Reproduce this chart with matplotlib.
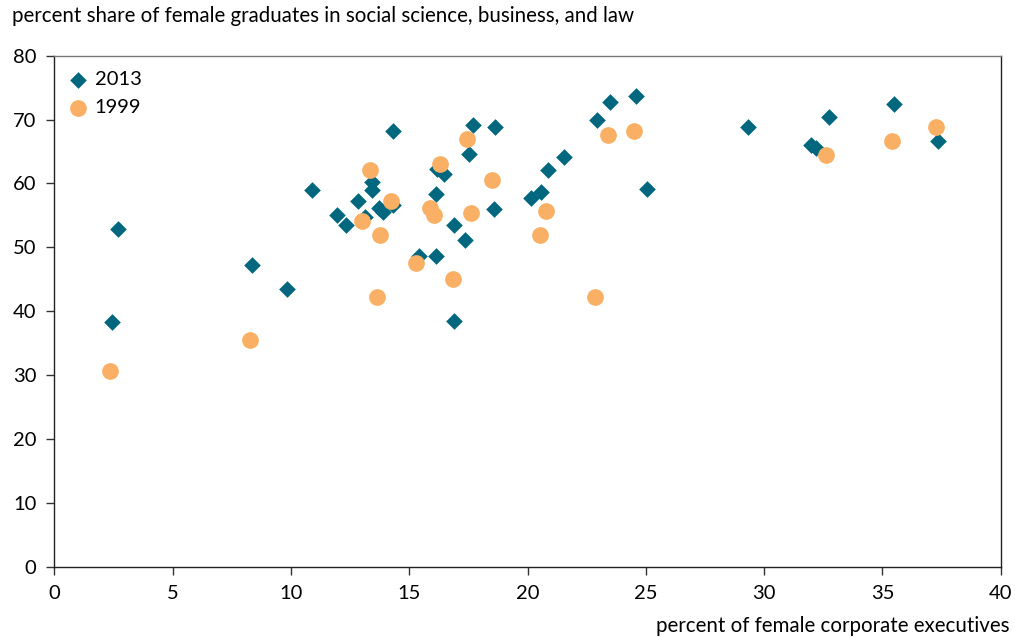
import matplotlib.pyplot as plt

plt.rcParams['font.family'] = ['Lato', 'DejaVu Sans']

# 2013 values (percent female executives, percent female graduates)
exec_2013 = [2.44, 2.71, 8.37, 9.85, 10.9, 11.95, 12.31, 12.83, 13.14, 13.43,
             13.43, 13.72, 13.91, 14.33, 14.31, 15.41, 16.14, 16.14, 16.19, 16.45,
             16.91, 16.91, 17.35, 17.53, 17.69, 18.58, 18.63, 20.16, 20.58, 20.86,
             21.55, 22.95, 23.47, 24.6, 25.03, 29.32, 32.0, 32.2, 32.73, 35.5, 37.35]
grad_2013 = [38.3, 52.8, 47.3, 43.5, 58.9, 55.1, 53.5, 57.3, 54.8, 60.2,
             59.0, 56.1, 55.6, 56.6, 68.2, 48.6, 48.7, 58.3, 62.3, 61.5,
             53.5, 38.4, 51.2, 64.6, 69.2, 56.0, 68.9, 57.7, 58.6, 62.1,
             64.1, 69.9, 72.7, 73.7, 59.2, 68.9, 66.0, 65.5, 70.4, 72.4, 66.6]

# 1999 values
exec_1999 = [2.36, 8.29, 13.0, 13.35, 13.62, 13.77, 14.22, 15.29, 15.87, 16.06,
             16.32, 16.83, 17.45, 17.62, 18.48, 20.51, 20.76, 22.86, 23.38, 24.51,
             32.63, 35.42, 37.27]
grad_1999 = [30.7, 35.5, 54.1, 62.1, 42.2, 51.9, 57.3, 47.5, 56.1, 55.0,
             63.1, 45.1, 66.9, 55.4, 60.5, 51.9, 55.7, 42.2, 67.6, 68.2,
             64.4, 66.6, 68.9]

fig = plt.figure(figsize=(10.15, 6.37), dpi=100)
ax = fig.add_axes([0.0535, 0.1104, 0.9325, 0.8022])

ax.scatter(exec_2013, grad_2013, marker='D', s=72, c='#00677E', linewidths=0, label='2013', zorder=2)
ax.scatter(exec_1999, grad_1999, marker='o', s=145, c='#F9B064', linewidths=0, label='1999', zorder=3)

ax.set_xlim(0, 40)
ax.set_ylim(0, 80)
ax.set_xticks(range(0, 41, 5))
ax.set_yticks(range(0, 81, 10))
ax.tick_params(direction='out', length=6, width=1, labelsize=14.5, colors='#333333',
               labelcolor='black')
ax.tick_params(axis='x', pad=7)
ax.tick_params(axis='y', pad=7)
for side in ['left', 'bottom', 'right']:
    ax.spines[side].set_color('#222222')
    ax.spines[side].set_linewidth(1)
ax.spines['top'].set_color('#777777')
ax.spines['top'].set_linewidth(1)

ax.legend(loc='upper left', frameon=False, fontsize=14.5, handletextpad=0.35,
          handlelength=0.9, borderaxespad=0.45, labelspacing=0.55, borderpad=0.3,
          markerscale=1.0)

fig.text(0.012, 0.975, 'percent share of female graduates in social science, business, and law',
         fontsize=14.8, ha='left', va='center')
fig.text(0.995, 0.018, 'percent of female corporate executives',
         fontsize=14.8, ha='right', va='center')

fig.savefig('out.png', dpi=100)
